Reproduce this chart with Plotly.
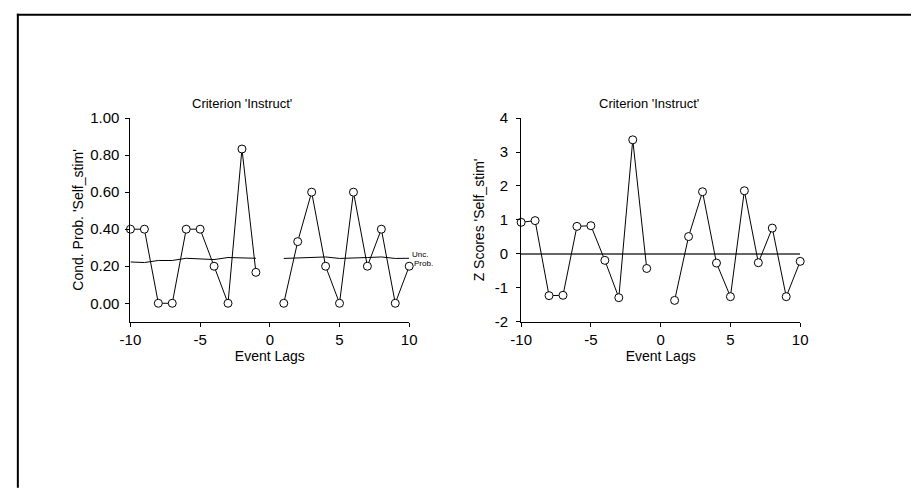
import plotly.graph_objects as go

W, H = 911, 491

lags_neg = [-10, -9, -8, -7, -6, -5, -4, -3, -2, -1]
lags_pos = [1, 2, 3, 4, 5, 6, 7, 8, 9, 10]

cond_prob_neg = [0.40, 0.40, 0.00, 0.00, 0.40, 0.40, 0.20, 0.00, 0.833, 0.167]
cond_prob_pos = [0.00, 0.333, 0.60, 0.20, 0.00, 0.60, 0.20, 0.40, 0.00, 0.20]

unc_prob_neg = [0.223, 0.220, 0.231, 0.231, 0.243, 0.239, 0.236, 0.247, 0.246, 0.243]
unc_prob_pos = [0.242, 0.245, 0.247, 0.250, 0.242, 0.243, 0.247, 0.250, 0.242, 0.243]

z_neg = [0.93, 0.98, -1.23, -1.22, 0.81, 0.83, -0.19, -1.29, 3.36, -0.43]
z_pos = [-1.37, 0.51, 1.83, -0.27, -1.26, 1.86, -0.26, 0.76, -1.26, -0.22]

x_ticks = [-10, -5, 0, 5, 10]
x_tick_text = ["-10", "-5", "0", "5", "10"]
prob_ticks = [0.0, 0.2, 0.4, 0.6, 0.8, 1.0]
prob_tick_text = ["0.00", "0.20", "0.40", "0.60", "0.80", "1.00"]
z_ticks = [-2, -1, 0, 1, 2, 3, 4]
z_tick_text = ["-2", "-1", "0", "1", "2", "3", "4"]

title_text = "Criterion 'Instruct'"
xlabel = "Event Lags"
ylabel_left = "Cond. Prob. 'Self_stim'"
ylabel_right = "Z Scores 'Self_stim'"

FONT = "Liberation Sans, Arial, sans-serif"

def px(x):
    return x / W

def py(y):
    return 1 - y / H

fig = go.Figure()

marker = dict(symbol="circle", size=8, color="white", line=dict(color="black", width=1))
line = dict(color="black", width=1)

for xs, ys in [(lags_neg, unc_prob_neg), (lags_pos, unc_prob_pos)]:
    fig.add_trace(go.Scatter(x=xs, y=ys, mode="lines", line=line,
                             xaxis="x", yaxis="y", showlegend=False, cliponaxis=False))
for xs, ys in [(lags_neg, cond_prob_neg), (lags_pos, cond_prob_pos)]:
    fig.add_trace(go.Scatter(x=xs, y=ys, mode="lines+markers", line=line, marker=marker,
                             xaxis="x", yaxis="y", showlegend=False, cliponaxis=False))
for xs, ys in [(lags_neg, z_neg), (lags_pos, z_pos)]:
    fig.add_trace(go.Scatter(x=xs, y=ys, mode="lines+markers", line=line, marker=marker,
                             xaxis="x2", yaxis="y2", showlegend=False, cliponaxis=False))

axis_common = dict(showline=True, linecolor="black", linewidth=1, ticks="outside",
                   ticklen=4, tickwidth=1, tickcolor="black", showgrid=False,
                   tickfont=dict(family=FONT, size=15, color="black"),
                   fixedrange=True)

y_dom = [py(324), py(113)]

fig.update_layout(
    width=W, height=H,
    margin=dict(l=0, r=0, t=0, b=0),
    paper_bgcolor="white", plot_bgcolor="white",
    font=dict(family=FONT, size=13, color="black"),
    hovermode=False,
    xaxis=dict(domain=[px(122), px(406.7)], range=[-10, 10], tickvals=x_ticks, ticktext=x_tick_text,
               anchor="y", zeroline=False,
               title=dict(text=xlabel, standoff=1, font=dict(size=14)), **axis_common),
    yaxis=dict(domain=y_dom, range=[-0.1, 1.0], tickvals=prob_ticks, ticktext=prob_tick_text,
               anchor="x", zeroline=False, ticklabelstandoff=3,
               title=dict(text=ylabel_left, standoff=3, font=dict(size=14)), **axis_common),
    xaxis2=dict(domain=[px(521), px(806)], range=[-10, 10], tickvals=x_ticks, ticktext=x_tick_text,
                anchor="y2", zeroline=False,
                title=dict(text=xlabel, standoff=1, font=dict(size=14)), **axis_common),
    yaxis2=dict(domain=y_dom, range=[-2, 4], tickvals=z_ticks, ticktext=z_tick_text,
                anchor="x2", zeroline=True, zerolinecolor="#666666", zerolinewidth=1.5,
                ticklabelstandoff=5,
                title=dict(text=ylabel_right, standoff=6, font=dict(size=14)), **axis_common),
)

annotations = [
    dict(text=title_text, x=px(236), y=py(98), xref="paper", yref="paper",
         showarrow=False, xanchor="center", yanchor="middle", font=dict(size=13)),
    dict(text=title_text, x=px(652), y=py(98), xref="paper", yref="paper",
         showarrow=False, xanchor="center", yanchor="middle", font=dict(size=13)),
    dict(text="Unc.", x=px(408), y=py(254.5), xref="paper", yref="paper",
         showarrow=False, xanchor="left", yanchor="middle", font=dict(size=8)),
    dict(text="Prob.", x=px(409.5), y=py(264), xref="paper", yref="paper",
         showarrow=False, xanchor="left", yanchor="middle", font=dict(size=8)),
]
fig.update_layout(annotations=annotations)

fig.update_layout(shapes=[
    dict(type="line", xref="paper", yref="paper", x0=px(6), x1=1.01, y0=py(6), y1=py(6),
         line=dict(color="black", width=2)),
    dict(type="line", xref="paper", yref="paper", x0=px(7), x1=px(7), y0=py(5), y1=-0.01,
         line=dict(color="black", width=2)),
])

fig.write_html(
    "out.html",
    config={"displayModeBar": False, "staticPlot": True},
    post_script="document.body.style.margin='0';document.body.style.overflow='hidden';",
)
